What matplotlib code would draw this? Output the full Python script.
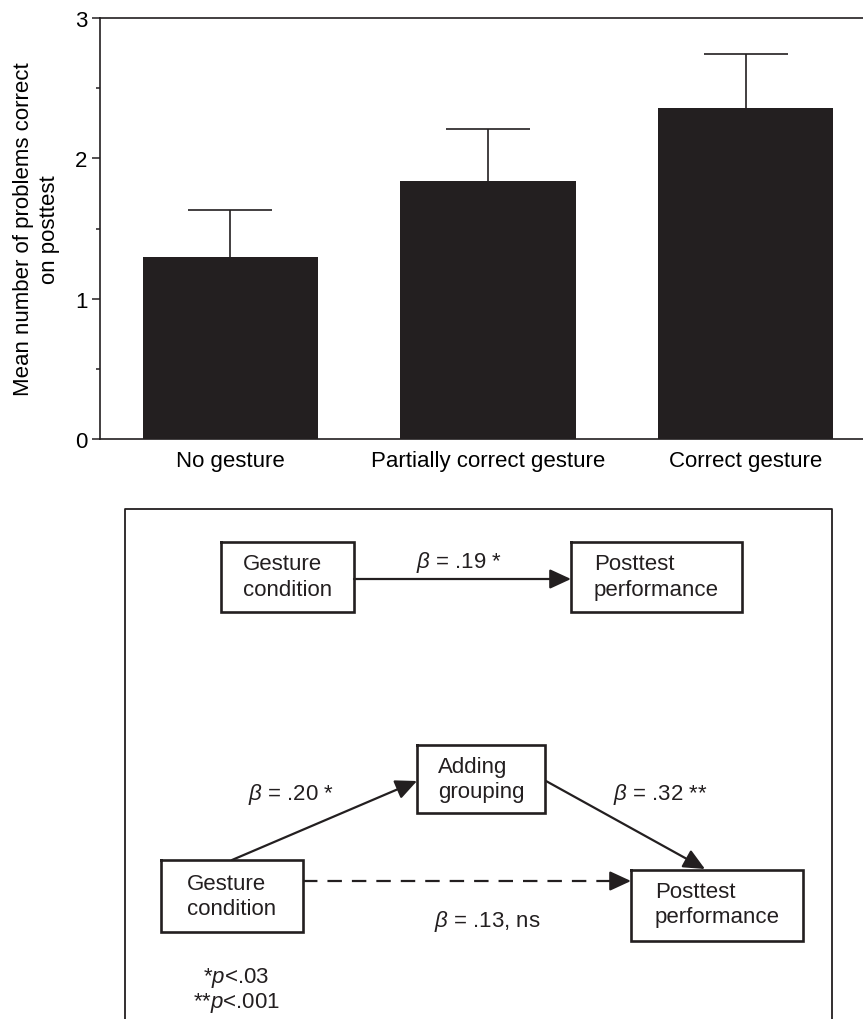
import matplotlib
matplotlib.use("Agg")
import matplotlib.pyplot as plt
import numpy as np

plt.rcParams['font.family'] = ['Liberation Sans', 'DejaVu Sans']
plt.rcParams['mathtext.fontset'] = 'custom'
plt.rcParams['mathtext.rm'] = 'Liberation Sans'
plt.rcParams['mathtext.it'] = 'Liberation Sans:italic'

# ---- data ----
categories = ["No gesture", "Partially correct gesture", "Correct gesture"]
means = [1.30, 1.84, 2.36]
errors = [0.33, 0.37, 0.38]
yticks = [0, 1, 2, 3]
ylabel = "Mean number of problems correct\non posttest"

path_labels = [r"$\beta$ = .19 *", r"$\beta$ = .20 *", r"$\beta$ = .32 **", r"$\beta$ = .13, ns"]
notes = [r"*$\mathit{p}$<.03", r"**$\mathit{p}$<.001"]

W, H = 863, 1020
FS = 16
dark = '#231f20'

fig = plt.figure(figsize=(W / 100, H / 100), dpi=100)

# ---- bar chart ----
ax = fig.add_axes([100 / W, 1 - 440 / H, 763 / W, (440 - 19) / H])
x = np.arange(len(categories))
means_a = np.array(means)
errs_a = np.array(errors)
ax.bar(x, means_a, width=0.68, color=dark, zorder=2)
ax.vlines(x, means_a, means_a + errs_a, color=dark, lw=1.2, zorder=1)
ax.hlines(means_a + errs_a, x - 0.163, x + 0.163, color=dark, lw=1.2, zorder=1)
ax.set_xlim(-0.505, 2.455)
ax.set_ylim(0, 3)
ax.set_yticks(yticks)
ax.set_yticks([0.5, 1.5, 2.5], minor=True)
ax.set_xticks(x)
ax.set_xticklabels(categories, fontsize=FS)
ax.tick_params(axis='x', length=0, pad=8)
ax.tick_params(axis='y', which='major', length=6, width=1.1, labelsize=FS, pad=3, color=dark)
ax.tick_params(axis='y', which='minor', length=3, width=1.1, color=dark)
ax.spines['right'].set_visible(False)
for s in ['left', 'top', 'bottom']:
    ax.spines[s].set_linewidth(1.2)
    ax.spines[s].set_color(dark)
ax.set_ylabel(ylabel, fontsize=FS, labelpad=11, linespacing=1.3)

# ---- path diagram ----
d = fig.add_axes([0, 0, 1, 1])
d.set_xlim(0, W)
d.set_ylim(H, 0)
d.axis('off')
d.patch.set_alpha(0)

lw = 1.6
# outer frame (open at bottom)
d.plot([125, 125, 832, 832], [H, 510, 510, H], color=dark, lw=1.3)

def box(x0, y0, x1, y1, lines, tx, ly):
    d.plot([x0, x1, x1, x0, x0], [y0, y0, y1, y1, y0], color=dark, lw=1.9,
           solid_joinstyle='miter')
    for t, yy in zip(lines, ly):
        d.text(tx, yy, t, fontsize=FS, ha='left', va='center', color=dark)

box(221, 543, 354, 613, ["Gesture", "condition"], 243, [565, 591])
box(571, 543, 742, 613, ["Posttest", "performance"], 594, [565, 591])
box(417, 746, 545, 814, ["Adding", "grouping"], 438, [768, 793])
box(161, 861, 303, 933, ["Gesture", "condition"], 187, [885, 910])
box(631, 871, 803, 942, ["Posttest", "performance"], 655, [893, 918])

ap = dict(arrowstyle='-|>,head_length=1.3,head_width=0.6', mutation_scale=10,
          lw=lw, color=dark, shrinkA=0, shrinkB=0)

def arrow(p0, p1):
    d.annotate('', xy=p1, xytext=p0, arrowprops=ap)

arrow((354, 580), (571, 580))
arrow((232, 861), (417, 782))
arrow((546, 782), (705, 870))
# dashed arrow
d.plot([303, 618], [882, 882], color=dark, lw=lw, dashes=(6.5, 4.5))
arrow((612, 882), (631, 882))

label_pos = [(459, 563), (291, 795), (660, 795), (487, 922)]
for t, (lx, ly) in zip(path_labels, label_pos):
    d.text(lx, ly, t, fontsize=FS, ha='center', va='center', color=dark)

for t, ly in zip(notes, [978, 1003]):
    d.text(236, ly, t, fontsize=FS, ha='center', va='center', color=dark)

fig.savefig("out.png", dpi=100)
